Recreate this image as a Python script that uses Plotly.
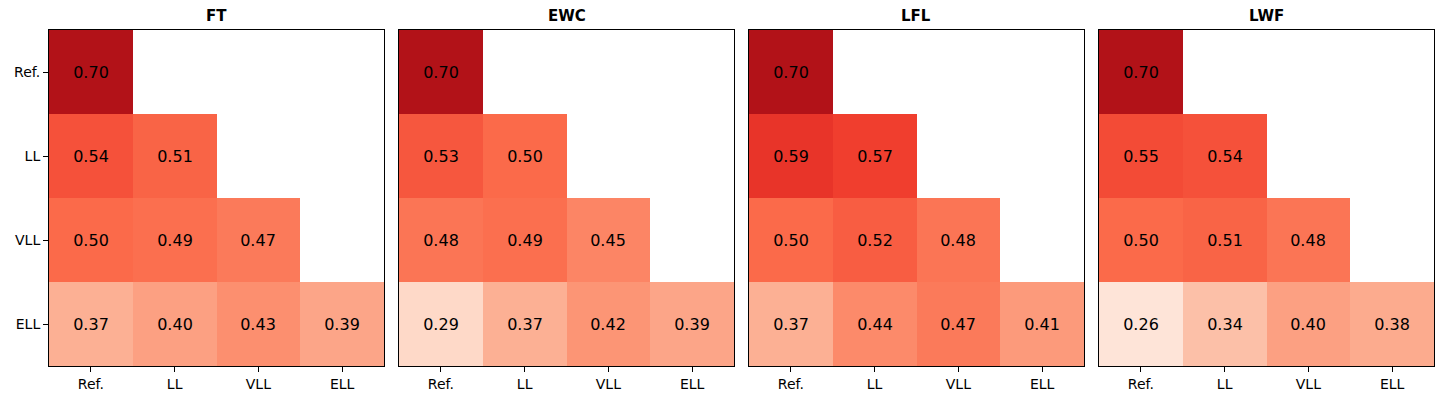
import plotly.graph_objects as go

labels = ["Ref.", "LL", "VLL", "ELL"]
methods = ["FT", "EWC", "LFL", "LWF"]

ft = [[0.70, None, None, None],
      [0.54, 0.51, None, None],
      [0.50, 0.49, 0.47, None],
      [0.37, 0.40, 0.43, 0.39]]
ewc = [[0.70, None, None, None],
       [0.53, 0.50, None, None],
       [0.48, 0.49, 0.45, None],
       [0.29, 0.37, 0.42, 0.39]]
lfl = [[0.70, None, None, None],
       [0.59, 0.57, None, None],
       [0.50, 0.52, 0.48, None],
       [0.37, 0.44, 0.47, 0.41]]
lwf = [[0.70, None, None, None],
       [0.55, 0.54, None, None],
       [0.50, 0.51, 0.48, None],
       [0.26, 0.34, 0.40, 0.38]]
matrices = [ft, ewc, lfl, lwf]

reds = ['#fff5f0', '#fee0d2', '#fcbba1', '#fc9272', '#fb6a4a',
        '#ef3b2c', '#cb181d', '#a50f15', '#67000d']
colorscale = [[i / 8, c] for i, c in enumerate(reds)]

# page has 8px body margin; figure is sized to fit the 1450x410 window
OFF = 8
W, H = 1450 - 2 * OFF, 410 - 2 * OFF
x0s = [49, 399, 749, 1099]
pw = 335
ytop, ybot = 30, 366

fig = go.Figure()
font_family = "DejaVu Sans"

for k, (name, mat) in enumerate(zip(methods, matrices)):
    xa = "x" if k == 0 else f"x{k+1}"
    ya = "y" if k == 0 else f"y{k+1}"
    fig.add_trace(go.Heatmap(
        z=mat, x=list(range(4)), y=list(range(4)),
        colorscale=colorscale, zmin=0.2, zmax=0.8,
        showscale=False, xgap=0, ygap=0,
        texttemplate="%{z:.2f}",
        textfont=dict(size=16, color="black", family=font_family),
        hoverongaps=False,
        xaxis=xa, yaxis=ya,
    ))
    dom_x = [(x0s[k] - OFF) / W, (x0s[k] + pw - OFF) / W]
    dom_y = [1 - (ybot - OFF) / H, 1 - (ytop - OFF) / H]
    xkey = "xaxis" if k == 0 else f"xaxis{k+1}"
    ykey = "yaxis" if k == 0 else f"yaxis{k+1}"
    fig.layout[xkey] = dict(
        domain=dom_x, anchor=ya, range=[-0.5, 3.5],
        tickmode="array", tickvals=list(range(4)), ticktext=labels,
        ticks="outside", ticklen=5, tickcolor="black", tickwidth=1,
        showline=True, linecolor="black", linewidth=1, mirror=True,
        showgrid=False, zeroline=False,
        tickfont=dict(size=14, color="black", family=font_family),
    )
    fig.layout[ykey] = dict(
        domain=dom_y, anchor=xa, range=[3.5, -0.5],
        tickmode="array", tickvals=list(range(4)),
        ticktext=labels if k == 0 else [""] * 4,
        ticks="outside" if k == 0 else "", ticklen=5, tickcolor="black", tickwidth=1,
        showticklabels=(k == 0),
        showline=True, linecolor="black", linewidth=1, mirror=True,
        showgrid=False, zeroline=False,
        tickfont=dict(size=14, color="black", family=font_family),
    )
    fig.add_annotation(
        text=f"<b>{name}</b>", xref="paper", yref="paper",
        x=(x0s[k] + pw / 2 - OFF) / W, y=1 - (16 - OFF) / H,
        xanchor="center", yanchor="middle", showarrow=False,
        font=dict(size=15, color="black", family=font_family),
    )

fig.update_layout(
    width=W, height=H,
    margin=dict(l=0, r=0, t=0, b=0),
    paper_bgcolor="white", plot_bgcolor="white",
    showlegend=False,
)

fig.write_html("out.html")
